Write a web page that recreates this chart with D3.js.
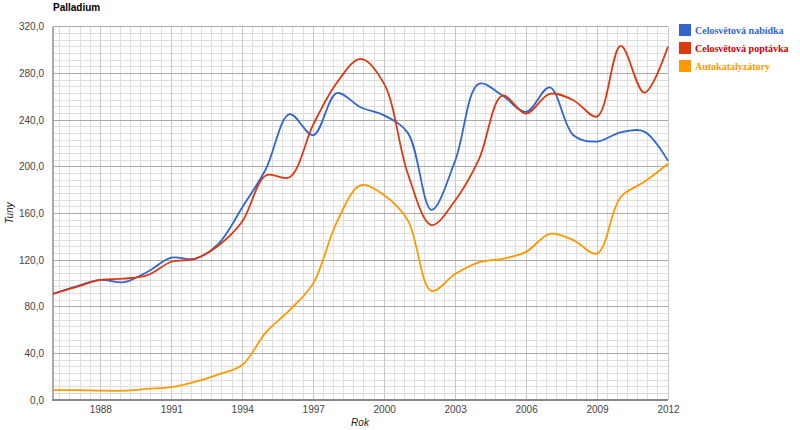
<!DOCTYPE html>
<html>
<head>
<meta charset="utf-8">
<script src="https://cdn.jsdelivr.net/npm/d3@7"></script>
<style>
  body { margin: 0; background: #fff; }
  svg { display: block; font-family: "Liberation Sans", Arial, sans-serif; }
</style>
</head>
<body>
<svg id="chart" width="800" height="430"></svg>
<script>
// data (tuny per rok)
var years = [1986, 1987, 1988, 1989, 1990, 1991, 1992, 1993, 1994, 1995, 1996, 1997, 1998, 1999,
             2000, 2001, 2002, 2003, 2004, 2005, 2006, 2007, 2008, 2009, 2010, 2011, 2012];
var supply = [91, 97.5, 103, 101, 110, 122, 121, 134, 165, 198, 245, 227, 263, 251,
              244, 229, 163, 205, 271, 261, 247, 268, 227, 221.5, 229.5, 230, 205];
var demand = [91, 97, 103, 104, 107, 118.5, 121, 132.5, 153, 192.5, 191, 236, 272, 292.5,
              271, 194, 150, 171, 206, 261, 245.5, 262.5, 257, 243, 303.5, 263.5, 303];
var autocat = [8.5, 8.5, 8, 8, 9.5, 11, 15.5, 22, 30, 58, 77, 100, 152.5, 184,
               175.5, 154, 93.5, 108, 118, 121, 127, 142.5, 137, 125.5, 174, 187, 202.5];

var seriesNames = ["Celosvětová nabídka", "Celosvětová poptávka", "Autokatalyzátory"];
var lineColors = ["#3366cc", "#dc3912", "#ff9900"];
var textColors = ["#3366cc", "#cc0000", "#ff9900"];
var xTicks = [1988, 1991, 1994, 1997, 2000, 2003, 2006, 2009, 2012];
var yTicks = [0, 40, 80, 120, 160, 200, 240, 280, 320];

var plotLeft = 53, plotRight = 668, plotTop = 26.7, plotBottom = 400;

var svg = d3.select("#chart");

var x = d3.scaleLinear().domain([1986, 2012]).range([plotLeft, plotRight]);
var y = d3.scaleLinear().domain([0, 320]).range([plotBottom, plotTop]);

// minor grid: 7 steps between each labelled tick
var minorX = d3.range(-4, 61).map(function(k) { return 1988 + k * 3 / 7; })
  .filter(function(v) { return v > 1986 + 0.01 && v < 2012 - 0.01; });
var minorY = d3.range(1, 56).map(function(k) { return k * 40 / 7; })
  .filter(function(v) { return v < 320; });

var grid = svg.append("g").attr("shape-rendering", "crispEdges");

grid.selectAll("line.mx").data(minorX).enter().append("line")
  .attr("x1", function(d) { return x(d); }).attr("x2", function(d) { return x(d); })
  .attr("y1", plotTop).attr("y2", plotBottom)
  .attr("stroke", "#dedede");

grid.selectAll("line.my").data(minorY).enter().append("line")
  .attr("x1", plotLeft).attr("x2", plotRight)
  .attr("y1", function(d) { return y(d); }).attr("y2", function(d) { return y(d); })
  .attr("stroke", "#dedede");

grid.selectAll("line.vx").data(xTicks).enter().append("line")
  .attr("x1", function(d) { return x(d); }).attr("x2", function(d) { return x(d); })
  .attr("y1", plotTop).attr("y2", plotBottom)
  .attr("stroke", "#c8c8c8");

grid.selectAll("line.hy").data(yTicks).enter().append("line")
  .attr("x1", plotLeft).attr("x2", plotRight)
  .attr("y1", function(d) { return y(d); }).attr("y2", function(d) { return y(d); })
  .attr("stroke", "#aaaaaa");

// axes with the library, then restyled
var fmt = function(d) { return d3.format(".1f")(d).replace(".", ","); };

var yAxis = svg.append("g")
  .attr("transform", "translate(" + plotLeft + ",0)")
  .call(d3.axisLeft(y).tickValues(yTicks).tickFormat(fmt).tickSize(0).tickPadding(9));
yAxis.select(".domain").remove();

var xAxis = svg.append("g")
  .attr("transform", "translate(0," + plotBottom + ")")
  .call(d3.axisBottom(x).tickValues(xTicks).tickFormat(d3.format("d")).tickSize(0).tickPadding(6));
xAxis.select(".domain").remove();

svg.selectAll(".tick text")
  .attr("font-family", "'Liberation Sans', Arial, sans-serif")
  .attr("font-size", "10px")
  .attr("fill", "#444");

svg.append("line")
  .attr("x1", plotLeft).attr("x2", plotLeft).attr("y1", plotTop).attr("y2", plotBottom + 1)
  .attr("stroke", "#aaaaaa").attr("stroke-width", 2);
svg.append("line")
  .attr("x1", plotLeft - 1).attr("x2", plotRight).attr("y1", plotBottom).attr("y2", plotBottom)
  .attr("stroke", "#888888").attr("stroke-width", 2);

// lines
var all = [supply, demand, autocat];
var line = d3.line()
  .x(function(d, i) { return x(years[i]); })
  .y(function(d) { return y(d); })
  .curve(d3.curveCatmullRom.alpha(0.5));

svg.append("g").selectAll("path").data(all).enter().append("path")
  .attr("d", line)
  .attr("fill", "none")
  .attr("stroke", function(d, i) { return lineColors[i]; })
  .attr("stroke-width", 1.8);

// title and axis titles
svg.append("text")
  .attr("x", 53).attr("y", 11)
  .attr("font-size", "10px").attr("font-weight", "bold")
  .attr("fill", "#000")
  .text("Palladium");

svg.append("text")
  .attr("x", 360).attr("y", 426)
  .attr("text-anchor", "middle")
  .attr("font-size", "10px").attr("font-style", "italic")
  .attr("fill", "#222")
  .text("Rok");

svg.append("text")
  .attr("transform", "translate(13,213) rotate(-90)")
  .attr("text-anchor", "middle")
  .attr("font-size", "10px").attr("font-style", "italic")
  .attr("fill", "#222")
  .text("Tuny");

// legend
var legend = svg.append("g").selectAll("g").data(seriesNames).enter().append("g")
  .attr("transform", function(d, i) { return "translate(679," + (24 + i * 18) + ")"; });

legend.append("rect")
  .attr("width", 12).attr("height", 12)
  .attr("fill", function(d, i) { return lineColors[i]; });

legend.append("text")
  .attr("x", 16).attr("y", 9.5)
  .attr("font-family", "'Liberation Serif', serif")
  .attr("font-size", "10px").attr("font-weight", "bold")
  .attr("fill", function(d, i) { return textColors[i]; })
  .text(function(d) { return d; });
</script>
</body>
</html>
